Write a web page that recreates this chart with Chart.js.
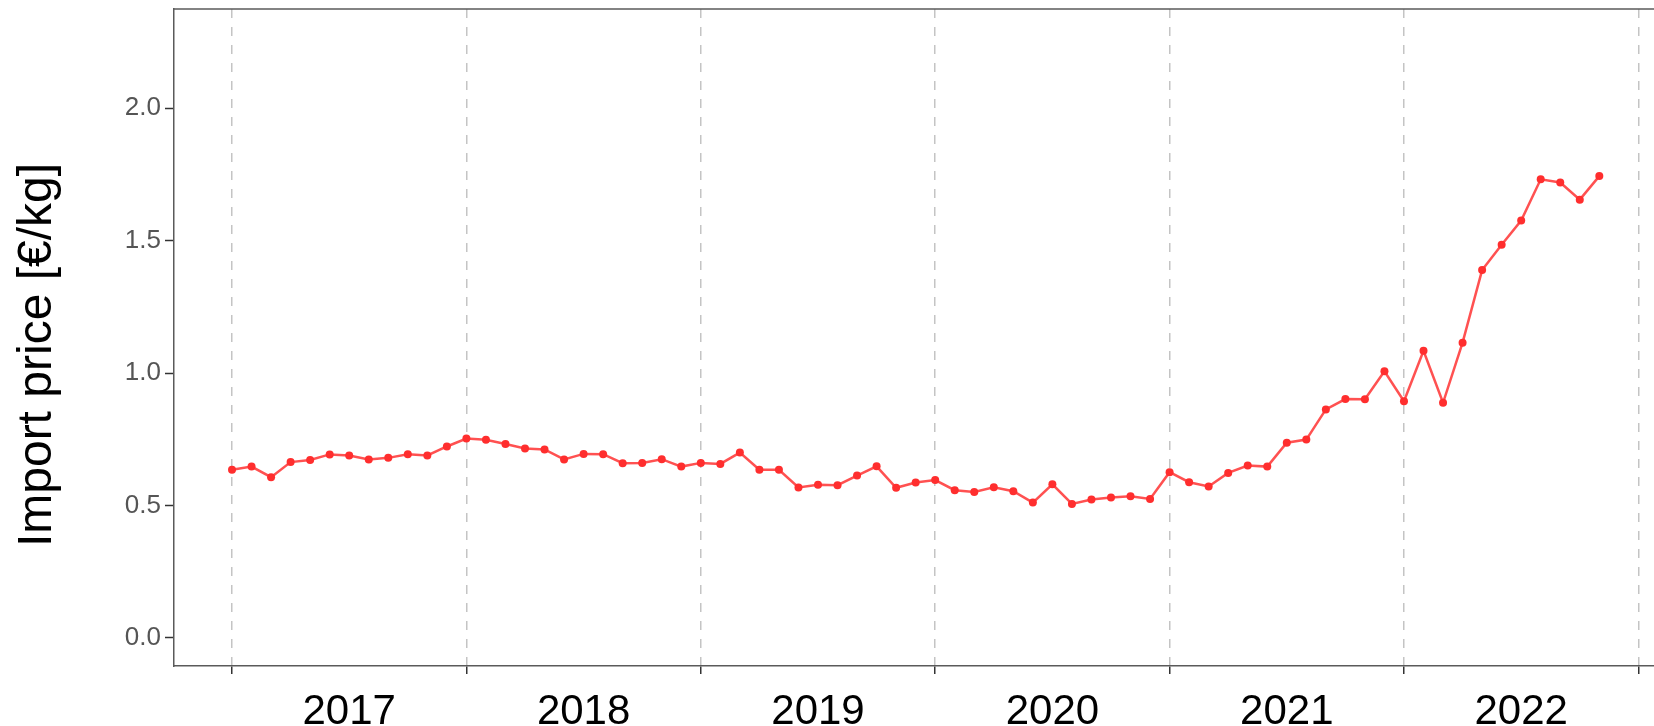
<!DOCTYPE html>
<html lang="en">

<head>
    <meta charset="UTF-8">
    <title>Import price</title>
    <script src="https://cdn.jsdelivr.net/npm/chart.js"></script>
    <style>
        body {
            margin: 0;
            padding: 0;
            background-color: #ffffff;
            overflow: hidden;
        }

        .chart-box {
            width: 1654px;
            height: 726px;
        }
    </style>
</head>

<body>
    <div class="chart-box">
        <canvas id="importPrice"></canvas>
    </div>

    <script>
        // year labels, shown in the middle of each year
        const years = ['2017', '2018', '2019', '2020', '2021', '2022'];

        // monthly import price, Jan 2017 .. Nov 2022 (EUR/kg)
        const prices = [
            0.635, 0.647, 0.607, 0.664, 0.672, 0.693, 0.689, 0.674, 0.680, 0.694, 0.689, 0.723,
            0.753, 0.748, 0.732, 0.715, 0.712, 0.674, 0.695, 0.694, 0.660, 0.661, 0.675, 0.647,
            0.661, 0.657, 0.700, 0.635, 0.635, 0.568, 0.578, 0.577, 0.613, 0.648, 0.567, 0.587,
            0.596, 0.558, 0.551, 0.569, 0.554, 0.511, 0.580, 0.506, 0.523, 0.530, 0.535, 0.525,
            0.626, 0.588, 0.572, 0.623, 0.651, 0.647, 0.737, 0.749, 0.863, 0.902, 0.901, 1.007,
            0.894, 1.084, 0.888, 1.115, 1.389, 1.485, 1.576, 1.732, 1.720, 1.655, 1.744
        ];

        const yTicks = [0, 0.5, 1.0, 1.5, 2.0];
        const yTitle = 'Import price [€/kg]';

        // x is months since Jan 2017
        const points = prices.map((v, i) => ({ x: i, y: v }));

        // ticks at year borders (dashed lines) and year middles (labels)
        const xTicks = [];
        for (let i = 0; i <= years.length; i++) {
            xTicks.push({ value: i * 12 });
            if (i < years.length) xTicks.push({ value: i * 12 + 6 });
        }

        const isBorder = v => v % 12 === 0;

        // top frame line and the y title (placed a bit below the area centre, like the original)
        const framePlugin = {
            id: 'frame',
            afterDraw(chart) {
                const { ctx, chartArea } = chart;
                ctx.save();
                ctx.strokeStyle = '#5a5a5a';
                ctx.lineWidth = 1.5;
                ctx.beginPath();
                ctx.moveTo(chartArea.left, chartArea.top);
                ctx.lineTo(chartArea.right, chartArea.top);
                ctx.stroke();

                ctx.translate(38, 355);
                ctx.rotate(-Math.PI / 2);
                ctx.fillStyle = '#000000';
                ctx.font = '48px "Liberation Sans"';
                ctx.textAlign = 'center';
                ctx.textBaseline = 'middle';
                ctx.fillText(yTitle, 0, 0);
                ctx.restore();
            }
        };

        const ctx = document.getElementById('importPrice').getContext('2d');
        new Chart(ctx, {
            type: 'line',
            data: {
                datasets: [{
                    label: 'Import price',
                    data: points,
                    borderColor: 'rgba(255, 50, 50, 0.85)',
                    borderWidth: 2.5,
                    pointRadius: 4,
                    pointBackgroundColor: '#ff2e2e',
                    pointBorderWidth: 0,
                    tension: 0
                }]
            },
            options: {
                responsive: true,
                maintainAspectRatio: false,
                animation: false,
                layout: {
                    autoPadding: false,
                    padding: { top: 9, left: 0, right: 0, bottom: 0 }
                },
                plugins: {
                    legend: { display: false },
                    tooltip: { enabled: false }
                },
                scales: {
                    x: {
                        type: 'linear',
                        min: -2.97,
                        max: 72.8,
                        afterBuildTicks: scale => { scale.ticks = xTicks.map(t => ({ value: t.value })); },
                        afterFit: scale => {
                            scale.height = 60;
                            scale.paddingLeft = 0;
                            scale.paddingRight = 0;
                        },
                        grid: {
                            color: c => isBorder(c.tick.value) ? '#c4c4c4' : 'rgba(0,0,0,0)',
                            lineWidth: 1.5,
                            tickColor: c => isBorder(c.tick.value) ? '#333333' : 'rgba(0,0,0,0)',
                            tickLength: 8,
                            tickWidth: 1.5
                        },
                        border: {
                            color: '#5a5a5a',
                            width: 1.5,
                            dash: [9, 9]
                        },
                        ticks: {
                            autoSkip: false,
                            maxRotation: 0,
                            padding: 13,
                            color: '#000000',
                            font: { family: 'Liberation Sans', size: 42 },
                            callback: v => isBorder(v) ? '' : years[(v - 6) / 12]
                        }
                    },
                    y: {
                        min: -0.106,
                        max: 2.375,
                        afterBuildTicks: scale => { scale.ticks = yTicks.map(v => ({ value: v })); },
                        afterFit: scale => {
                            scale.width = 174;
                            scale.paddingTop = 0;
                            scale.paddingBottom = 0;
                        },
                        grid: {
                            drawOnChartArea: false,
                            tickColor: '#333333',
                            tickLength: 9,
                            tickWidth: 1.5
                        },
                        border: {
                            color: '#5a5a5a',
                            width: 1.5
                        },
                        ticks: {
                            padding: 4,
                            color: '#555555',
                            font: { family: 'Liberation Sans', size: 26 },
                            callback: v => v.toFixed(1)
                        }
                    }
                }
            },
            plugins: [framePlugin]
        });
    </script>
</body>

</html>
